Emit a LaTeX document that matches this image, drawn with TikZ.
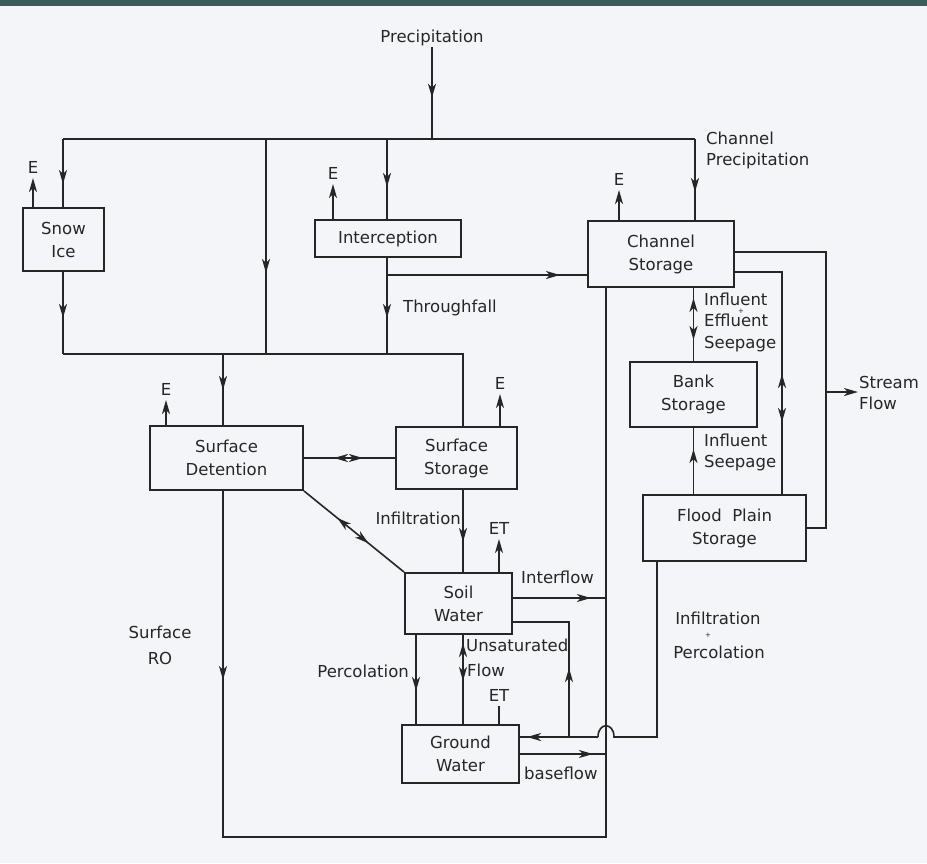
\documentclass[tikz,border=0pt]{standalone}
\usepackage{fontspec}
\setmainfont{DejaVu Sans}
\usetikzlibrary{arrows.meta,decorations.markings}
\definecolor{paper}{HTML}{F4F5F9}
\definecolor{band}{HTML}{3B5C5C}
\definecolor{ink}{HTML}{262626}
\begin{document}
\begin{tikzpicture}[x=1pt,y=-1pt,
  >={Stealth[length=14pt,width=8pt,inset=4pt]},
  ln/.style={draw=ink,color=ink,line width=1.6pt},
  box/.style={draw=ink,line width=1.9pt,fill=paper,inner sep=0pt,align=center,text=ink,font=\fontsize{16.5}{23}\selectfont},
  lab/.style={text=ink,inner sep=1pt,font=\fontsize{16.5}{21}\selectfont},
  plus/.style={text=ink,inner sep=0pt,font=\fontsize{7}{7}\selectfont},
  elab/.style={text=ink,inner sep=0pt,outer sep=5pt,font=\fontsize{16.5}{20}\selectfont},
  fwd/.style={postaction={decorate,decoration={markings,mark=at position #1 with {\arrow{>}}}}},
  bwd/.style={postaction={decorate,decoration={markings,mark=at position #1 with {\arrowreversed{>}}}}},
]
\fill[paper] (0,0) rectangle (927,863);
\fill[band] (0,0) rectangle (927,6);
\useasboundingbox (0,0) rectangle (927,863);

% boxes
\node[box,minimum width=81pt,minimum height=63pt] (snow) at (63.5,239.5) {Snow\\Ice};
\node[box,minimum width=146pt,minimum height=37pt] (interception) at (388,238.5) {Interception};
\node[box,minimum width=146pt,minimum height=66pt] (channel) at (661,254) {Channel\\Storage};
\node[box,minimum width=127pt,minimum height=65pt] (bank) at (693.5,394.5) {Bank\\Storage};
\node[box,minimum width=153pt,minimum height=64pt] (surfdet) at (226.5,458) {Surface\\Detention};
\node[box,minimum width=121pt,minimum height=62pt] (surfsto) at (456.5,458) {Surface\\Storage};
\node[box,minimum width=107pt,minimum height=61pt] (soil) at (458.5,603.5) {Soil\\Water};
\node[box,minimum width=117pt,minimum height=58pt] (ground) at (460.5,754) {Ground\\Water};
\node[box,minimum width=163pt,minimum height=66pt] (flood) at (724.5,528) {Flood\ \ Plain\\Storage};

% labels
\node[lab] (prec) at (432,38) {Precipitation};
\node[lab,align=left,anchor=west] (cp) at (705,150) {Channel\\Precipitation};
\node[lab,anchor=west] (thrl) at (402,308) {Throughfall};
\node[lab,anchor=east] (infl) at (462,518) {Infiltration};
\node[lab,anchor=west] (intl) at (520,577) {Interflow};
\node[lab,anchor=west,align=left,font=\fontsize{16.5}{21.5}\selectfont] (ies) at (703,322) {Influent\\Effluent\\Seepage};
\node[plus] (iesplus) at (741,311) {+};
\node[lab,anchor=west,align=left] (isl) at (703,452) {Influent\\Seepage};
\node[lab,anchor=west,align=left] (sfl) at (858,393) {Stream\\Flow};
\node[lab] (ip1) at (718,618) {Infiltration};
\node[plus] (ip2) at (708,635) {+};
\node[lab] (ip3) at (719,652) {Percolation};
\node[lab,anchor=east] (percl) at (410,671) {Percolation};
\node[lab,anchor=west] (unsl) at (465,645) {Unsaturated};
\node[lab,anchor=west] (flowl) at (466,670) {Flow};
\node[lab,anchor=west] (basel) at (523,773) {baseflow};
\node[lab,align=center,font=\fontsize{16.5}{26}\selectfont] (srol) at (160,645) {Surface\\RO};

% evaporation labels
\node[elab,anchor=south] (eSnow) at (33,178) {E};
\node[elab,anchor=south] (eInt) at (333,184) {E};
\node[elab,anchor=south] (eCh) at (619,190) {E};
\node[elab,anchor=south] (eDet) at (166,400) {E};
\node[elab,anchor=south] (eSto) at (500,394) {E};
\node[elab,anchor=south] (etSoil) at (499,539) {ET};
\node[elab,anchor=south] (etGr) at (499,706) {ET};

% junction coordinates
\coordinate (t1) at (63,139);
\coordinate (t2) at (266,139);
\coordinate (t3) at (387,139);
\coordinate (t0) at (432,139);
\coordinate (t4) at (695,139);
\coordinate (b1) at (63,354);
\coordinate (bd) at (223,354);
\coordinate (b2) at (266,354);
\coordinate (b3) at (387,354);
\coordinate (b4) at (463,354);
\coordinate (thr) at (387,275);
\coordinate (vx) at (606,0);
\coordinate (vb) at (606,837);
\coordinate (rb) at (223,837);
\coordinate (vi) at (606,598);
\coordinate (vg) at (606,754);
\coordinate (fd) at (657,737);
\coordinate (hr) at (614,737);
\coordinate (hl) at (598,737);
\coordinate (up) at (569,737);
\coordinate (us) at (569,622);
\coordinate (o1) at (826,252);
\coordinate (o2) at (826,528);
\coordinate (sf) at (826,392);
\coordinate (i1) at (782,272);
\coordinate (pc) at (416,0);
\coordinate (uc) at (463,0);

% precipitation distribution
\draw[ln,fwd=0.55] (prec.south) -- (t0);
\draw[ln] (t1) -- (t4);
\draw[ln,fwd=45pt] (t1) -- (t1 |- snow.north);
\draw[ln,fwd=53pt] (t4) -- (t4 |- channel.north);
\draw[ln,fwd=48pt] (t3) -- (t3 |- interception.north);
\draw[ln,fwd=134pt] (t2) -- (b2);
\draw[ln,fwd=46pt] (t1 |- snow.south) -- (b1);
\draw[ln,fwd=60pt] (t3 |- interception.south) -- (b3);
\draw[ln] (b1) -- (b4) -- (b4 |- surfsto.north);
\draw[ln,fwd=36pt] (bd) -- (bd |- surfdet.north);
\draw[ln,fwd=173pt] (thr) -- (thr -| channel.west);

% evaporation
\draw[ln,->] (snow.north -| eSnow) -- (eSnow.south);
\draw[ln,->] (interception.north -| eInt) -- (eInt.south);
\draw[ln,->] (channel.north -| eCh) -- (eCh.south);
\draw[ln,->] (surfdet.north -| eDet) -- (eDet.south);
\draw[ln,->] (surfsto.north -| eSto) -- (eSto.south);
\draw[ln,->] (soil.north -| etSoil) -- (etSoil.south);
\draw[ln] (ground.north -| etGr) -- (etGr.south);

% surface
\draw[ln,bwd=30pt,fwd=59pt] (surfdet.east) -- (surfsto.west);
\draw[ln,bwd=43pt,fwd=83pt] (surfdet.south east) -- (soil.north west);
\draw[ln,fwd=52pt] (surfsto.south -| uc) -- (soil.north -| uc);

% surface runoff and return line to channel
\draw[ln,fwd=189pt] (surfdet.south -| rb) -- (rb) -- (vb) -- (channel.south -| vx);
\draw[ln,fwd=78pt] (soil.east |- vi) -- (vi);
\draw[ln,fwd=73pt] (ground.east |- vg) -- (vg);

% subsurface
\draw[ln,fwd=56pt] (soil.south -| pc) -- (ground.north -| pc);
\draw[ln,bwd=8pt,fwd=46pt] (soil.south -| uc) -- (ground.north -| uc);

% flood plain infiltration
\draw[ln] (flood.south -| fd) -- (fd) -- (hr) .. controls (614,722) and (598,722) .. (hl);
\draw[ln,fwd=71pt] (hl) -- (ground.east |- hl);
\draw[ln,fwd=69pt] (up) -- (us) -- (soil.east |- us);

% channel, bank, flood plain
\draw[ln,bwd=10pt,fwd=52pt] (channel.south -| bank.north) -- (bank.north);
\draw[ln,fwd=45pt] (flood.north -| bank.south) -- (bank.south);
\draw[ln,bwd=149pt,fwd=197pt] (channel.east |- i1) -- (i1) -- (i1 |- flood.north);
\draw[ln] (channel.east |- o1) -- (o1) -- (o2) -- (flood.east);
\draw[ln,->] (sf) -- (sf -| sfl.west);
\end{tikzpicture}
\end{document}
